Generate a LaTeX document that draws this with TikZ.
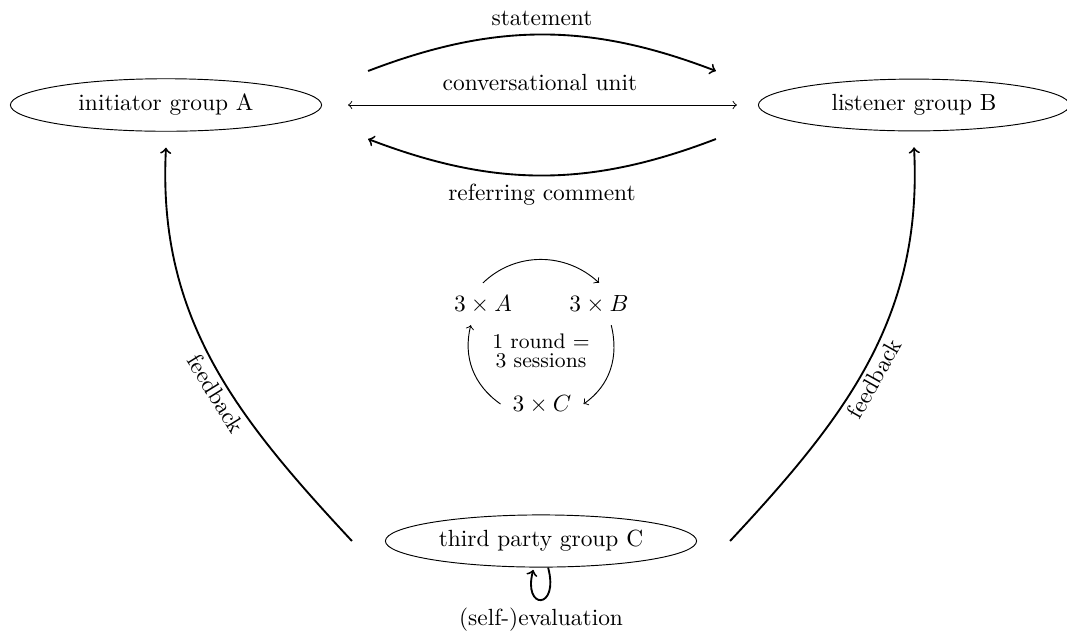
\documentclass[tikz,border=0pt]{standalone}
\usetikzlibrary{shapes.geometric,calc}
\begin{document}
\begin{tikzpicture}[x=0.4274pt,y=0.4274pt,
  group/.style={ellipse,draw,minimum width=133pt,minimum height=21pt,inner sep=3.33pt},
  cyc/.style={inner sep=5pt},
  flow/.style={->,thick},
  cycflow/.style={->},
  fblabel/.style={sloped,below,inner sep=1.5pt}]
\useasboundingbox (0,0) rectangle (1067,-632);
% main groups
\node[group] (A) at (166,-105) {initiator group A};
\node[group] (B) at (914,-105) {listener group B};
\node[group] (C) at (541,-541) {third party group C};
% central cycle
\node[cyc] (a3) at (483,-304) {$3\times A$};
\node[cyc] (b3) at (599,-304) {$3\times B$};
\node[cyc] (c3) at (542,-404) {$3\times C$};
\node[font=\small,align=center] (r) at (541,-351) {1 round =\\[-3pt]3 sessions};
% connectors between A and B
\draw[<->,shorten <=11.1pt,shorten >=9pt] (A) -- node[above=2.5pt]{conversational unit} (B);
\draw[flow] ([shift={(46,34)}]A.east) to[bend left=21] node[above]{statement} ([shift={(-42,34)}]B.west);
\draw[flow] ([shift={(-42,-34)}]B.west) to[bend left=21] node[below]{referring comment} ([shift={(46,-34)}]A.east);
% feedback
\draw[flow] ([xshift=-14.1pt]C.west) to[out=133,in=-93] node[fblabel,pos=0.43]{feedback} ([yshift=-6.8pt]A.south);
\draw[flow] ([xshift=14.1pt]C.east) to[out=47,in=-87] node[fblabel,pos=0.47]{feedback} ([yshift=-6.8pt]B.south);
% self-evaluation loop
\path (C) edge[flow,loop below] node[below]{(self-)evaluation} (C);
% cycle arrows
\draw[cycflow] (a3.north) to[out=44,in=137] (b3.north);
\draw[cycflow] (b3.-60) to[out=-76,in=35] (c3.east);
\draw[cycflow] (c3.west) to[out=145,in=-104] (a3.-120);
\end{tikzpicture}
\end{document}
